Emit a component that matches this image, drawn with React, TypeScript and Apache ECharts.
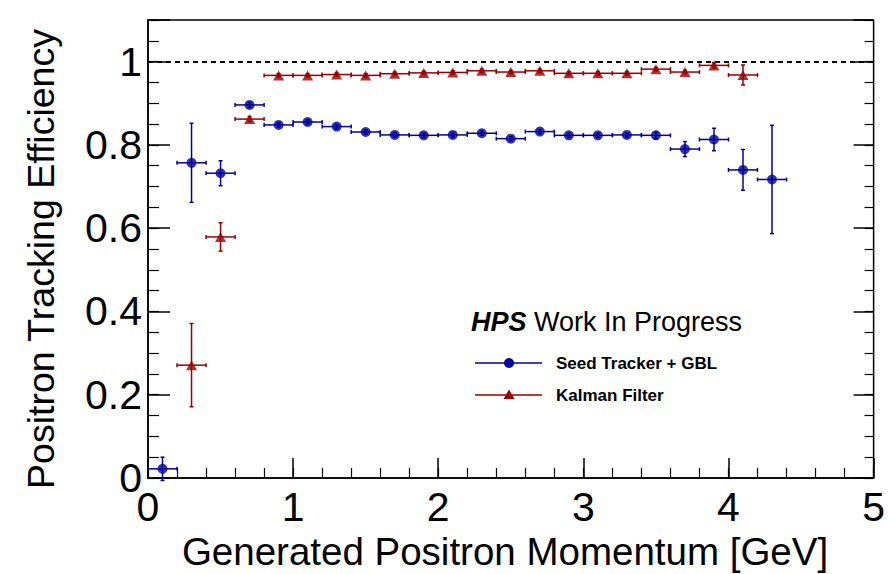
import React, { useEffect, useRef } from "react";
import * as echarts from "echarts";

const binCenters = [0.1, 0.3, 0.5, 0.7, 0.9, 1.1, 1.3, 1.5, 1.7, 1.9, 2.1, 2.3, 2.5, 2.7, 2.9, 3.1, 3.3, 3.5, 3.7, 3.9, 4.1, 4.3];
const binHalfWidth = 0.1;

const seedY = [0.022, 0.757, 0.732, 0.896, 0.848, 0.855, 0.844, 0.831, 0.824, 0.823, 0.824, 0.828, 0.815, 0.832, 0.823, 0.823, 0.824, 0.823, 0.79, 0.813, 0.74, 0.717];
const seedErr = [0.028, 0.095, 0.03, 0.006, 0.005, 0.005, 0.005, 0.005, 0.005, 0.005, 0.005, 0.005, 0.005, 0.005, 0.005, 0.005, 0.005, 0.008, 0.018, 0.027, 0.049, 0.13];

// Kalman filter starts at 0.3 GeV and ends at 4.1 GeV
const kalmanX = [0.3, 0.5, 0.7, 0.9, 1.1, 1.3, 1.5, 1.7, 1.9, 2.1, 2.3, 2.5, 2.7, 2.9, 3.1, 3.3, 3.5, 3.7, 3.9, 4.1];
const kalmanY = [0.271, 0.579, 0.862, 0.967, 0.967, 0.969, 0.967, 0.971, 0.973, 0.974, 0.978, 0.975, 0.978, 0.972, 0.972, 0.972, 0.982, 0.975, 0.991, 0.968];
const kalmanErr = [0.1, 0.034, 0.006, 0.004, 0.004, 0.004, 0.004, 0.004, 0.004, 0.004, 0.004, 0.004, 0.004, 0.004, 0.004, 0.004, 0.004, 0.004, 0.006, 0.024];

const xTitle = "Generated Positron Momentum [GeV]";
const yTitle = "Positron Tracking Efficiency";
const seedName = "Seed Tracker + GBL";
const kalmanName = "Kalman Filter";

const BLUE = "#000099";
const RED = "#990000";
const FONT = "Liberation Sans, Arial, Helvetica, sans-serif";

function errorBarSeries(xs: number[], ys: number[], es: number[], color: string) {
  const data = xs.map((x, i) => [x, ys[i], binHalfWidth, es[i]]);
  return {
    type: "custom",
    xAxisIndex: 0,
    yAxisIndex: 0,
    silent: true,
    z: 2,
    data,
    renderItem: (params: any, api: any) => {
      const x = api.value(0);
      const y = api.value(1);
      const xe = api.value(2);
      const ye = api.value(3);
      const pL = api.coord([x - xe, y]);
      const pR = api.coord([x + xe, y]);
      const pT = api.coord([x, y + ye]);
      const pB = api.coord([x, y - ye]);
      const st = { stroke: color, lineWidth: 1.5 };
      const cap = 2;
      return {
        type: "group",
        children: [
          { type: "line", shape: { x1: pL[0], y1: pL[1], x2: pR[0], y2: pR[1] }, style: st },
          { type: "line", shape: { x1: pT[0], y1: pT[1], x2: pB[0], y2: pB[1] }, style: st },
          { type: "line", shape: { x1: pL[0], y1: pL[1] - cap, x2: pL[0], y2: pL[1] + cap }, style: st },
          { type: "line", shape: { x1: pR[0], y1: pR[1] - cap, x2: pR[0], y2: pR[1] + cap }, style: st },
          { type: "line", shape: { x1: pT[0] - cap, y1: pT[1], x2: pT[0] + cap, y2: pT[1] }, style: st },
          { type: "line", shape: { x1: pB[0] - cap, y1: pB[1], x2: pB[0] + cap, y2: pB[1] }, style: st },
        ],
      };
    },
  };
}

export default function App() {
  const ref = useRef<HTMLDivElement>(null);

  useEffect(() => {
    if (!ref.current) return;
    const chart = echarts.init(ref.current, undefined, { renderer: "svg" });

    const yMax = 1.1;
    const majorLabel = (v: number) => {
      if (v > 1.05) return "";
      const r = Math.round(v * 10) / 10;
      return String(r);
    };

    const option: any = {
      animation: false,
      backgroundColor: "#ffffff",
      grid: {
        left: 148,
        right: 11,
        top: 20,
        bottom: 96,
        show: true,
        borderColor: "#000",
        borderWidth: 1.5,
        backgroundColor: "transparent",
      },
      xAxis: [
        {
          type: "value",
          min: 0,
          max: 5,
          interval: 1,
          position: "bottom",
          axisLine: { show: true, onZero: false, lineStyle: { color: "#000", width: 1.5 } },
          axisTick: { show: true, inside: true, length: 20, lineStyle: { color: "#000", width: 1.5 } },
          axisLabel: { show: true, fontSize: 41, color: "#000", fontFamily: FONT, margin: 8 },
          splitLine: { show: false },
        },
        {
          type: "value",
          min: 0,
          max: 5,
          interval: 0.2,
          position: "bottom",
          axisLine: { show: false, onZero: false },
          axisTick: { show: true, inside: true, length: 10, lineStyle: { color: "#000", width: 1.2 } },
          axisLabel: { show: false },
          splitLine: { show: false },
        },
      ],
      yAxis: [
        {
          type: "value",
          min: 0,
          max: yMax,
          interval: 0.2,
          position: "left",
          axisLine: { show: true, onZero: false, lineStyle: { color: "#000", width: 1.5 } },
          axisTick: { show: true, inside: true, length: 22, lineStyle: { color: "#000", width: 1.5 } },
          axisLabel: { show: true, fontSize: 41, color: "#000", fontFamily: FONT, margin: 6, formatter: majorLabel },
          splitLine: { show: false },
        },
        {
          type: "value",
          min: 0,
          max: yMax,
          interval: 0.05,
          position: "left",
          axisLine: { show: false, onZero: false },
          axisTick: { show: true, inside: true, length: 11, lineStyle: { color: "#000", width: 1.2 } },
          axisLabel: { show: false },
          splitLine: { show: false },
        },
        {
          type: "value",
          min: 0,
          max: yMax,
          interval: 0.2,
          position: "right",
          axisLine: { show: false, onZero: false },
          axisTick: { show: true, inside: true, length: 20, lineStyle: { color: "#000", width: 1.5 } },
          axisLabel: { show: false },
          splitLine: { show: false },
        },
        {
          type: "value",
          min: 0,
          max: yMax,
          interval: 0.05,
          position: "right",
          axisLine: { show: false, onZero: false },
          axisTick: { show: true, inside: true, length: 9, lineStyle: { color: "#000", width: 1.2 } },
          axisLabel: { show: false },
          splitLine: { show: false },
        },
      ],
      series: [
        {
          type: "line",
          xAxisIndex: 0,
          yAxisIndex: 0,
          data: [],
          silent: true,
          markLine: {
            silent: true,
            symbol: "none",
            label: { show: false },
            lineStyle: { color: "#000", width: 2, type: [5, 4] },
            data: [{ yAxis: 1 }],
          },
        },
        errorBarSeries(kalmanX, kalmanY, kalmanErr, RED),
        errorBarSeries(binCenters, seedY, seedErr, BLUE),
        {
          type: "scatter",
          name: kalmanName,
          xAxisIndex: 0,
          yAxisIndex: 0,
          symbol: "triangle",
          symbolSize: [11, 10],
          itemStyle: { color: RED },
          z: 3,
          data: kalmanX.map((x, i) => [x, kalmanY[i]]),
        },
        {
          type: "scatter",
          name: seedName,
          xAxisIndex: 0,
          yAxisIndex: 0,
          symbol: "circle",
          symbolSize: 10,
          itemStyle: { color: BLUE },
          z: 4,
          data: binCenters.map((x, i) => [x, seedY[i]]),
        },
      ],
      graphic: [
        {
          type: "text",
          x: 41,
          y: 259,
          rotation: Math.PI / 2,
          style: { text: yTitle, fontSize: 37.5, fontFamily: FONT, fill: "#000", align: "center", verticalAlign: "middle" },
        },
        {
          type: "text",
          x: 505,
          y: 551,
          style: { text: xTitle, fontSize: 38.5, fontFamily: FONT, fill: "#000", align: "center", verticalAlign: "middle" },
        },
        {
          type: "text",
          x: 471,
          y: 322,
          style: {
            text: "{b|HPS} Work In Progress",
            fontSize: 27,
            fontFamily: FONT,
            fill: "#000",
            align: "left",
            verticalAlign: "middle",
            rich: {
              b: { fontSize: 27, fontFamily: FONT, fontWeight: "bold", fontStyle: "italic", fill: "#000" },
            },
          },
        },
        { type: "line", shape: { x1: 475, y1: 363, x2: 542, y2: 363 }, style: { stroke: BLUE, lineWidth: 1.5 } },
        { type: "circle", shape: { cx: 509, cy: 363, r: 5 }, style: { fill: BLUE } },
        {
          type: "text",
          x: 556,
          y: 363,
          style: { text: seedName, fontSize: 17, fontWeight: "bold", fontFamily: FONT, fill: "#000", verticalAlign: "middle" },
        },
        { type: "line", shape: { x1: 475, y1: 395, x2: 542, y2: 395 }, style: { stroke: RED, lineWidth: 1.5 } },
        {
          type: "polygon",
          shape: { points: [[509, 389.5], [514.5, 399], [503.5, 399]] },
          style: { fill: RED },
        },
        {
          type: "text",
          x: 556,
          y: 395,
          style: { text: kalmanName, fontSize: 17, fontWeight: "bold", fontFamily: FONT, fill: "#000", verticalAlign: "middle" },
        },
      ],
    };

    chart.setOption(option);
    return () => chart.dispose();
  }, []);

  return <div ref={ref} style={{ width: 888, height: 574, position: "absolute", left: 0, top: 0 }} />;
}
